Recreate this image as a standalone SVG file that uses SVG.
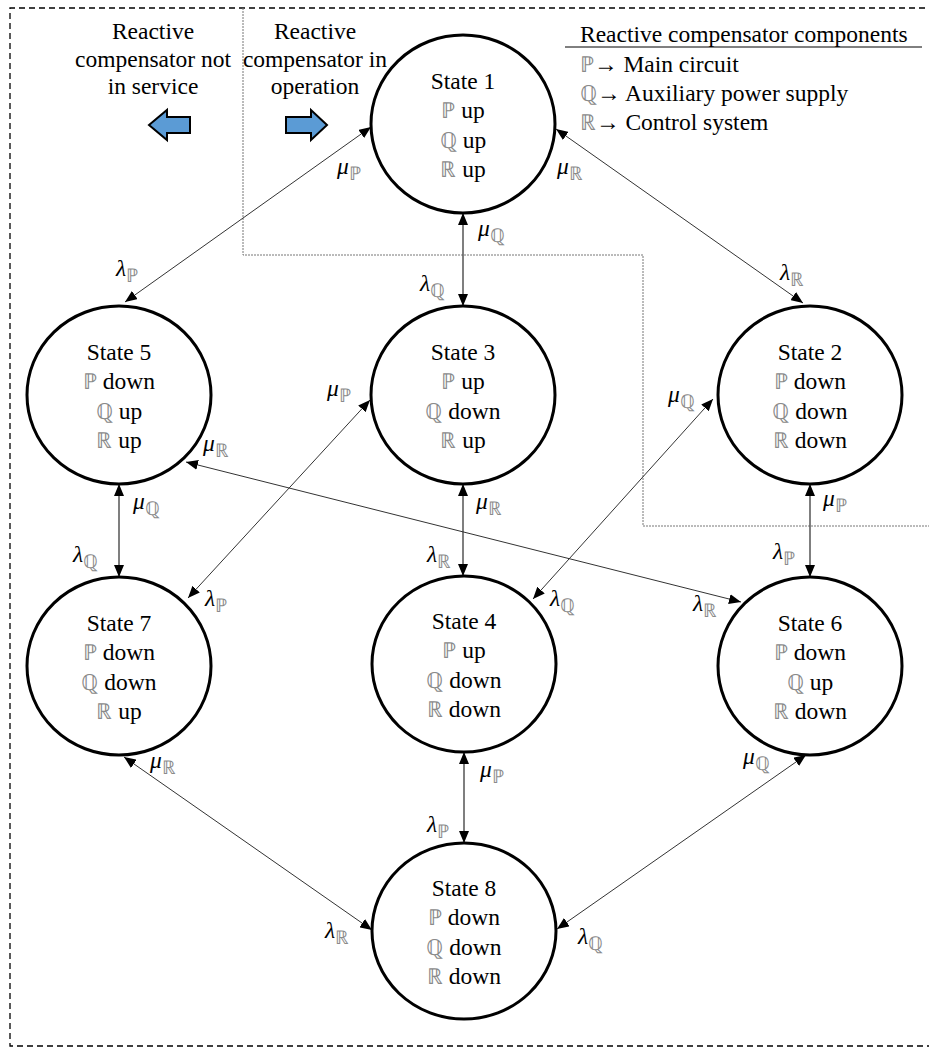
<svg xmlns="http://www.w3.org/2000/svg" width="929" height="1050" viewBox="0 0 929 1050" font-family="Liberation Serif">
  <style>
    .txt { font-size: 23.5px; fill: #000; }
    .mid { text-anchor: middle; }
    .bb { fill: #8a8a8a; font-size: 22px; }
    .sub { fill: #8a8a8a; font-size: 19px; }
    .greek { font-style: italic; }
    .state { fill: #fff; stroke: #000; stroke-width: 3; }
    .edge { fill: none; stroke: #333; stroke-width: 1; marker-start: url(#ah); marker-end: url(#ah); }
    .vedge { fill: none; stroke: #555; stroke-width: 1.5; marker-start: url(#ah); marker-end: url(#ah); }
    .frame { fill: none; stroke: #000; stroke-width: 1.3; stroke-dasharray: 6 4; }
    .zone { fill: none; stroke: #777; stroke-width: 1; stroke-dasharray: 2 1; }
    .bigarrow { fill: #5B9BD5; stroke: #000; stroke-width: 2; stroke-linejoin: miter; }
  </style>
  <defs>
    <marker id="ah" viewBox="0 0 12 10" refX="12" refY="5" markerWidth="12" markerHeight="10" markerUnits="userSpaceOnUse" orient="auto-start-reverse">
      <path d="M0,0 L12,5 L0,10 z" fill="#000"/>
    </marker>
  </defs>

  <rect width="929" height="1050" fill="#fff"/>

  <!-- outer boundary and operating zone -->
  <g id="boundaries">
    <path class="frame" d="M935 8 H10 V1046 H935"/>
    <path class="zone" d="M243 8 V255 H643 V526 H935"/>
  </g>

  <!-- zone captions with direction arrows -->
  <g id="caption-out" font-family="Liberation Serif">
    <text class="txt mid" x="153" y="39">Reactive</text>
    <text class="txt mid" x="153" y="67">compensator not</text>
    <text class="txt mid" x="153" y="94">in service</text>
    <path class="bigarrow" d="M149 125 L167 110 L167 117 L190 117 L190 133 L167 133 L167 140 Z"/>
  </g>
  <g id="caption-in" font-family="Liberation Serif">
    <text class="txt mid" x="315" y="39">Reactive</text>
    <text class="txt mid" x="315" y="67">compensator in</text>
    <text class="txt mid" x="315" y="94">operation</text>
    <path class="bigarrow" d="M327 125 L311 110 L311 117 L286 117 L286 133 L311 133 L311 140 Z"/>
  </g>

  <!-- legend -->
  <g id="legend" font-family="Liberation Serif">
    <text class="txt" x="580" y="42">Reactive compensator components</text>
    <line x1="565" y1="47" x2="922" y2="47" stroke="#000" stroke-width="1"/>
    <text class="txt" x="580" y="72"><tspan class="bb">ℙ</tspan>→ Main circuit</text>
    <text class="txt" x="580" y="101"><tspan class="bb">ℚ</tspan>→ Auxiliary power supply</text>
    <text class="txt" x="580" y="130"><tspan class="bb">ℝ</tspan>→ Control system</text>
  </g>

  <!-- transitions -->
  <g id="connectors">
    <line class="vedge" x1="463" y1="213" x2="463" y2="306"/>
    <line class="vedge" x1="463" y1="484" x2="463" y2="576"/>
    <line class="vedge" x1="464" y1="752" x2="464" y2="843"/>
    <line class="vedge" x1="119" y1="484" x2="119" y2="577"/>
    <line class="vedge" x1="810" y1="484" x2="810" y2="577"/>
    <line class="edge" x1="371" y1="127" x2="125" y2="302"/>
    <line class="edge" x1="556" y1="129" x2="803" y2="303"/>
    <line class="edge" x1="370" y1="400" x2="188" y2="598"/>
    <line class="edge" x1="713" y1="399" x2="533" y2="599"/>
    <line class="edge" x1="186" y1="462" x2="741" y2="602"/>
    <line class="edge" x1="124" y1="757" x2="372" y2="930"/>
    <line class="edge" x1="806" y1="755" x2="557" y2="929"/>
  </g>

  <!-- transition rate labels -->
  <g id="rates" class="txt" font-family="Liberation Serif">
    <text x="478" y="236"><tspan class="greek">μ</tspan><tspan class="sub" dy="6">ℚ</tspan></text>
    <text x="420" y="291"><tspan class="greek">λ</tspan><tspan class="sub" dy="6">ℚ</tspan></text>
    <text x="337" y="174"><tspan class="greek">μ</tspan><tspan class="sub" dy="6">ℙ</tspan></text>
    <text x="116" y="276"><tspan class="greek">λ</tspan><tspan class="sub" dy="6">ℙ</tspan></text>
    <text x="557" y="174"><tspan class="greek">μ</tspan><tspan class="sub" dy="6">ℝ</tspan></text>
    <text x="780" y="280"><tspan class="greek">λ</tspan><tspan class="sub" dy="6">ℝ</tspan></text>
    <text x="476" y="509"><tspan class="greek">μ</tspan><tspan class="sub" dy="6">ℝ</tspan></text>
    <text x="427" y="562"><tspan class="greek">λ</tspan><tspan class="sub" dy="6">ℝ</tspan></text>
    <text x="133" y="509"><tspan class="greek">μ</tspan><tspan class="sub" dy="6">ℚ</tspan></text>
    <text x="73" y="562"><tspan class="greek">λ</tspan><tspan class="sub" dy="6">ℚ</tspan></text>
    <text x="823" y="506"><tspan class="greek">μ</tspan><tspan class="sub" dy="6">ℙ</tspan></text>
    <text x="773" y="559"><tspan class="greek">λ</tspan><tspan class="sub" dy="6">ℙ</tspan></text>
    <text x="480" y="777"><tspan class="greek">μ</tspan><tspan class="sub" dy="6">ℙ</tspan></text>
    <text x="427" y="832"><tspan class="greek">λ</tspan><tspan class="sub" dy="6">ℙ</tspan></text>
    <text x="327" y="396"><tspan class="greek">μ</tspan><tspan class="sub" dy="6">ℙ</tspan></text>
    <text x="205" y="606"><tspan class="greek">λ</tspan><tspan class="sub" dy="6">ℙ</tspan></text>
    <text x="668" y="402"><tspan class="greek">μ</tspan><tspan class="sub" dy="6">ℚ</tspan></text>
    <text x="550" y="606"><tspan class="greek">λ</tspan><tspan class="sub" dy="6">ℚ</tspan></text>
    <text x="203" y="451"><tspan class="greek">μ</tspan><tspan class="sub" dy="6">ℝ</tspan></text>
    <text x="693" y="611"><tspan class="greek">λ</tspan><tspan class="sub" dy="6">ℝ</tspan></text>
    <text x="150" y="768"><tspan class="greek">μ</tspan><tspan class="sub" dy="6">ℝ</tspan></text>
    <text x="325" y="938"><tspan class="greek">λ</tspan><tspan class="sub" dy="6">ℝ</tspan></text>
    <text x="743" y="764"><tspan class="greek">μ</tspan><tspan class="sub" dy="6">ℚ</tspan></text>
    <text x="578" y="944"><tspan class="greek">λ</tspan><tspan class="sub" dy="6">ℚ</tspan></text>
  </g>

  <!-- states -->
  <g id="state1" font-family="Liberation Serif">
    <ellipse class="state" cx="463" cy="124" rx="92" ry="89"/>
    <text class="txt mid" x="463" y="89">State 1</text>
    <text class="txt mid" x="463" y="118"><tspan class="bb">ℙ</tspan> up</text>
    <text class="txt mid" x="463" y="148"><tspan class="bb">ℚ</tspan> up</text>
    <text class="txt mid" x="463" y="177"><tspan class="bb">ℝ</tspan> up</text>
  </g>
  <g id="state5" font-family="Liberation Serif">
    <ellipse class="state" cx="119" cy="395" rx="92" ry="89"/>
    <text class="txt mid" x="119" y="360">State 5</text>
    <text class="txt mid" x="119" y="389"><tspan class="bb">ℙ</tspan> down</text>
    <text class="txt mid" x="119" y="419"><tspan class="bb">ℚ</tspan> up</text>
    <text class="txt mid" x="119" y="448"><tspan class="bb">ℝ</tspan> up</text>
  </g>
  <g id="state3" font-family="Liberation Serif">
    <ellipse class="state" cx="463" cy="395" rx="92" ry="89"/>
    <text class="txt mid" x="463" y="360">State 3</text>
    <text class="txt mid" x="463" y="389"><tspan class="bb">ℙ</tspan> up</text>
    <text class="txt mid" x="463" y="419"><tspan class="bb">ℚ</tspan> down</text>
    <text class="txt mid" x="463" y="448"><tspan class="bb">ℝ</tspan> up</text>
  </g>
  <g id="state2" font-family="Liberation Serif">
    <ellipse class="state" cx="810" cy="395" rx="92" ry="89"/>
    <text class="txt mid" x="810" y="360">State 2</text>
    <text class="txt mid" x="810" y="389"><tspan class="bb">ℙ</tspan> down</text>
    <text class="txt mid" x="810" y="419"><tspan class="bb">ℚ</tspan> down</text>
    <text class="txt mid" x="810" y="448"><tspan class="bb">ℝ</tspan> down</text>
  </g>
  <g id="state7" font-family="Liberation Serif">
    <ellipse class="state" cx="119" cy="666" rx="92" ry="89"/>
    <text class="txt mid" x="119" y="631">State 7</text>
    <text class="txt mid" x="119" y="660"><tspan class="bb">ℙ</tspan> down</text>
    <text class="txt mid" x="119" y="690"><tspan class="bb">ℚ</tspan> down</text>
    <text class="txt mid" x="119" y="719"><tspan class="bb">ℝ</tspan> up</text>
  </g>
  <g id="state4" font-family="Liberation Serif">
    <ellipse class="state" cx="464" cy="664" rx="92" ry="88"/>
    <text class="txt mid" x="464" y="629">State 4</text>
    <text class="txt mid" x="464" y="658"><tspan class="bb">ℙ</tspan> up</text>
    <text class="txt mid" x="464" y="688"><tspan class="bb">ℚ</tspan> down</text>
    <text class="txt mid" x="464" y="717"><tspan class="bb">ℝ</tspan> down</text>
  </g>
  <g id="state6" font-family="Liberation Serif">
    <ellipse class="state" cx="810" cy="666" rx="92" ry="89"/>
    <text class="txt mid" x="810" y="631">State 6</text>
    <text class="txt mid" x="810" y="660"><tspan class="bb">ℙ</tspan> down</text>
    <text class="txt mid" x="810" y="690"><tspan class="bb">ℚ</tspan> up</text>
    <text class="txt mid" x="810" y="719"><tspan class="bb">ℝ</tspan> down</text>
  </g>
  <g id="state8" font-family="Liberation Serif">
    <ellipse class="state" cx="464" cy="931" rx="92" ry="88"/>
    <text class="txt mid" x="464" y="896">State 8</text>
    <text class="txt mid" x="464" y="925"><tspan class="bb">ℙ</tspan> down</text>
    <text class="txt mid" x="464" y="955"><tspan class="bb">ℚ</tspan> down</text>
    <text class="txt mid" x="464" y="984"><tspan class="bb">ℝ</tspan> down</text>
  </g>
</svg>
